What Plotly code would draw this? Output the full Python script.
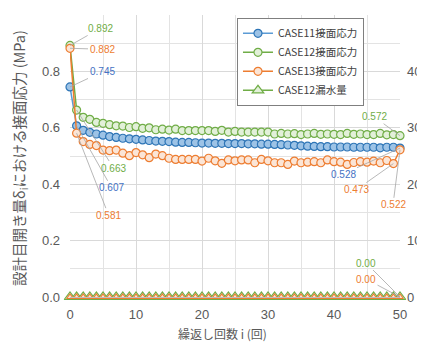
import plotly.graph_objects as go

cycles = list(range(51))

case11_stress = [0.745, 0.607, 0.591, 0.584, 0.578, 0.574, 0.569, 0.566, 0.563, 0.561,
                 0.559, 0.557, 0.555, 0.553, 0.552, 0.551, 0.549, 0.548, 0.548, 0.547,
                 0.546, 0.546, 0.545, 0.545, 0.544, 0.544, 0.544, 0.543, 0.543, 0.542,
                 0.542, 0.541, 0.540, 0.539, 0.538, 0.536, 0.535, 0.534, 0.533, 0.533,
                 0.532, 0.532, 0.532, 0.531, 0.531, 0.531, 0.531, 0.529, 0.531, 0.531,
                 0.528]

case12_stress = [0.892, 0.663, 0.637, 0.630, 0.619, 0.616, 0.611, 0.607, 0.606, 0.601,
                 0.604, 0.598, 0.600, 0.593, 0.595, 0.592, 0.595, 0.590, 0.590, 0.590,
                 0.590, 0.590, 0.587, 0.591, 0.585, 0.587, 0.585, 0.585, 0.585, 0.585,
                 0.585, 0.578, 0.580, 0.578, 0.579, 0.576, 0.578, 0.580, 0.577, 0.578,
                 0.577, 0.576, 0.580, 0.577, 0.578, 0.576, 0.576, 0.580, 0.575, 0.576,
                 0.572]

case13_stress = [0.882, 0.581, 0.551, 0.541, 0.537, 0.521, 0.519, 0.521, 0.510, 0.501,
                 0.512, 0.504, 0.494, 0.507, 0.501, 0.492, 0.488, 0.488, 0.488, 0.488,
                 0.482, 0.492, 0.483, 0.474, 0.486, 0.483, 0.486, 0.486, 0.476, 0.488,
                 0.483, 0.476, 0.476, 0.470, 0.482, 0.476, 0.478, 0.480, 0.476, 0.486,
                 0.480, 0.478, 0.470, 0.477, 0.480, 0.478, 0.482, 0.476, 0.484, 0.473,
                 0.522]

case12_leak = [0.0] * 51
case13_leak = [0.0] * 51

y_ticks = [0.0, 0.2, 0.4, 0.6, 0.8, 1.0]
y2_ticks = [0, 10, 20, 30, 40, 50]
x_ticks = [0, 10, 20, 30, 40, 50]

x_title = "繰返し回数 i (回)"
y_title = "設計目開き量δ<sub>i</sub>における接面応力 (MPa)"

BLUE = "#4472c4"
BLUE_M = "#2e75b6"
GREEN = "#70ad47"
ORANGE = "#ed7d31"
FONT = "Liberation Sans, Noto Sans CJK JP, sans-serif"
JP = "Noto Sans CJK JP, sans-serif"

fig = go.Figure()

fig.add_trace(go.Scatter(
    x=cycles, y=case11_stress, mode="lines+markers", name="CASE11接面応力",
    line=dict(color="#5b9bd5", width=1.5),
    marker=dict(symbol="circle", size=8, color="#9dc3e6", line=dict(color=BLUE_M, width=1.2)),
    cliponaxis=False))
fig.add_trace(go.Scatter(
    x=cycles, y=case12_stress, mode="lines+markers", name="CASE12接面応力",
    line=dict(color=GREEN, width=1.5),
    marker=dict(symbol="circle", size=8, color="#e2f0d9", line=dict(color=GREEN, width=1.2)),
    cliponaxis=False))
fig.add_trace(go.Scatter(
    x=cycles, y=case13_stress, mode="lines+markers", name="CASE13接面応力",
    line=dict(color=ORANGE, width=1.5),
    marker=dict(symbol="circle", size=8, color="#fbe5d6", line=dict(color=ORANGE, width=1.2)),
    cliponaxis=False))
fig.add_trace(go.Scatter(
    x=cycles, y=case12_leak, mode="lines+markers", name="CASE12漏水量", yaxis="y2",
    line=dict(color=GREEN, width=1.5),
    marker=dict(symbol="triangle-up", size=10, color="#e2f0d9", line=dict(color=GREEN, width=1.2)),
    cliponaxis=False))
fig.add_trace(go.Scatter(
    x=cycles, y=case13_leak, mode="markers", name="CASE13漏水量", yaxis="y2",
    showlegend=False,
    marker=dict(symbol="triangle-up", size=6, color="#fbe5d6", line=dict(color=ORANGE, width=1.2)),
    cliponaxis=False))

# data labels with leader lines
labels = [
    (0, case12_stress[0], GREEN, 30, -17),
    (0, case13_stress[0], ORANGE, 32, 1),
    (0, case11_stress[0], BLUE, 32, -15),
    (1, case12_stress[1], GREEN, 37, 58),
    (1, case11_stress[1], BLUE, 35, 62),
    (1, case13_stress[1], ORANGE, 32, 82),
    (50, case12_stress[50], GREEN, -26, -19),
    (50, case11_stress[50], BLUE, -57, 26),
    (49, case13_stress[49], ORANGE, -37, 26),
    (50, case13_stress[50], ORANGE, -7, 55),
]
for xi, yv, col, ax, ay in labels:
    fig.add_annotation(x=xi, y=yv, xref="x", yref="y", text=f"{yv:.3f}",
                       showarrow=True, arrowhead=0, arrowwidth=0.8, arrowcolor="#a6a6a6",
                       ax=ax, ay=ay, font=dict(family=FONT, size=10, color=col))
for yv, col, ay in [(case12_leak[50], GREEN, -34), (case13_leak[50], ORANGE, -18)]:
    fig.add_annotation(x=50, y=yv, xref="x", yref="y2", text=f"{yv:.2f}",
                       showarrow=True, arrowhead=0, arrowwidth=0.8, arrowcolor="#a6a6a6",
                       ax=-34, ay=ay, font=dict(family=FONT, size=10, color=col))

# axis titles
fig.add_annotation(x=0.4636, y=-0.128, xref="paper", yref="paper", text=x_title,
                   showarrow=False, xanchor="center", yanchor="middle",
                   font=dict(family=JP, size=12, color="#595959"))
fig.add_annotation(x=-0.1515, y=0.493, xref="paper", yref="paper", text=y_title,
                   showarrow=False, xanchor="center", yanchor="middle", textangle=-90,
                   font=dict(family=JP, size=14.5, color="#595959"))

# the page body adds an 8px margin, so the figure is drawn 8px smaller
fig.update_layout(
    width=417, height=335,
    margin=dict(l=62, r=25, t=7, b=46),
    paper_bgcolor="white", plot_bgcolor="white",
    font=dict(family=FONT, size=13, color="#595959"),
    showlegend=True,
    legend=dict(x=0.506, y=0.99, xanchor="left", yanchor="top",
                bgcolor="white", bordercolor="#7f7f7f", borderwidth=1,
                font=dict(family=JP, size=10.5, color="#404040"),
                tracegroupgap=0, itemwidth=30),
    xaxis=dict(range=[0, 50], tickvals=x_ticks, showgrid=True, gridcolor="#d9d9d9",
               minor=dict(dtick=5, showgrid=True, gridcolor="#e3e3e3"),
               zeroline=False, showline=True, linecolor="#bfbfbf", ticks="", ticklen=0,
               automargin=False, ticklabelstandoff=5,
               tickfont=dict(size=13, color="#595959")),
    yaxis=dict(range=[0, 1.0], tickvals=y_ticks, tickformat=".1f", showgrid=True,
               gridcolor="#d9d9d9",
               minor=dict(dtick=0.1, showgrid=True, gridcolor="#e3e3e3"),
               zeroline=False, showline=False, ticks="", ticklen=0, automargin=False,
               ticklabelstandoff=9,
               tickfont=dict(size=13, color="#595959")),
    yaxis2=dict(range=[0, 50], tickvals=y2_ticks, overlaying="y", side="right",
                showgrid=False, zeroline=False, showline=False, ticks="", ticklen=0,
                automargin=False, ticklabelstandoff=6,
                tickfont=dict(size=13, color="#595959")),
)

fig.write_html("out.html")
